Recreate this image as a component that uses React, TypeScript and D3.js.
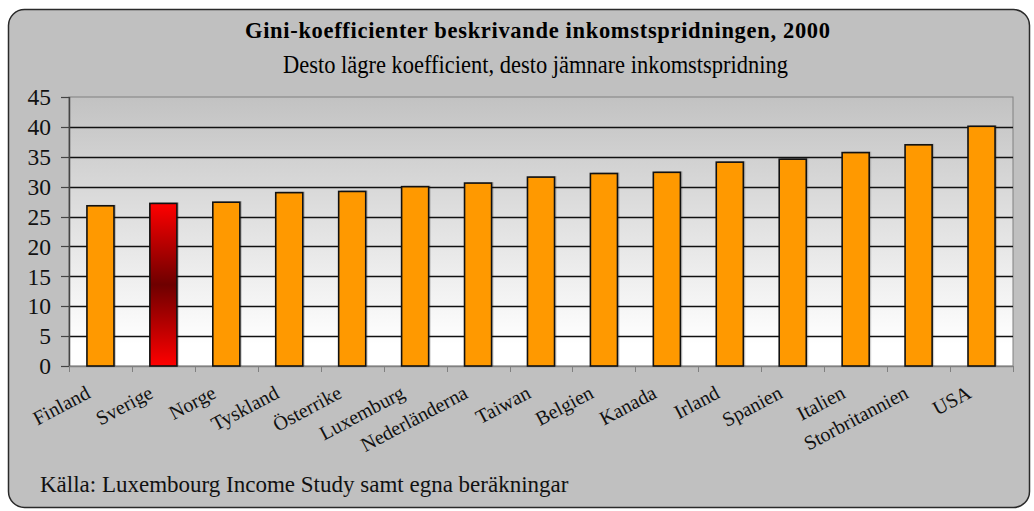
import React, { useEffect, useRef } from 'react';
import * as d3 from 'd3';

const countries = [
  'Finland', 'Sverige', 'Norge', 'Tyskland', 'Österrike', 'Luxemburg', 'Nederländerna',
  'Taiwan', 'Belgien', 'Kanada', 'Irland', 'Spanien', 'Italien', 'Storbritannien', 'USA',
];
const gini = [26.8, 27.2, 27.4, 29.0, 29.2, 30.0, 30.6, 31.6, 32.2, 32.4, 34.1, 34.6, 35.7, 37.0, 40.1];
const yTicks = [0, 5, 10, 15, 20, 25, 30, 35, 40, 45];
const highlight = 'Sverige';

const title = 'Gini-koefficienter beskrivande inkomstspridningen, 2000';
const subtitle = 'Desto lägre koefficient, desto jämnare inkomstspridning';
const source = 'Källa: Luxembourg Income Study samt egna beräkningar';

const W = 1034;
const H = 511;
const plot = { left: 69, right: 1013, top: 97, bottom: 366 };
const serif = '"Liberation Serif", "DejaVu Serif", serif';

const App = () => {
  const ref = useRef(null);

  useEffect(() => {
    const svg = d3.select(ref.current);
    svg.selectAll('*').remove();

    const x = d3.scaleBand().domain(countries).range([plot.left, plot.right]).paddingInner(0.57).paddingOuter(0.285);
    const band = d3.scaleBand().domain(countries).range([plot.left, plot.right]);
    const y = d3.scaleLinear().domain([0, 45]).range([plot.bottom, plot.top]);

    const defs = svg.append('defs');
    const bg = defs.append('linearGradient').attr('id', 'plotbg').attr('x1', 0).attr('x2', 0).attr('y1', 0).attr('y2', 1);
    bg.append('stop').attr('offset', '0%').attr('stop-color', '#c2c2c2');
    bg.append('stop').attr('offset', '92%').attr('stop-color', '#ffffff');
    bg.append('stop').attr('offset', '100%').attr('stop-color', '#ffffff');

    const red = defs.append('linearGradient').attr('id', 'redbar').attr('x1', 0).attr('x2', 0).attr('y1', 0).attr('y2', 1);
    red.append('stop').attr('offset', '0%').attr('stop-color', '#ff0000');
    red.append('stop').attr('offset', '50%').attr('stop-color', '#6e0000');
    red.append('stop').attr('offset', '100%').attr('stop-color', '#ff0000');

    // chart frame
    svg.append('rect')
      .attr('x', 8.5).attr('y', 9.5)
      .attr('width', 1021).attr('height', 498)
      .attr('rx', 16)
      .attr('fill', '#c0c0c0')
      .attr('stroke', '#2a2a2a')
      .attr('stroke-width', 1.5);

    svg.append('text')
      .attr('x', 245).attr('y', 38)
      .attr('font-family', serif).attr('font-weight', 'bold').attr('font-size', 22.5)
      .attr('textLength', 585).attr('lengthAdjust', 'spacing')
      .attr('fill', '#000')
      .text(title);

    svg.append('text')
      .attr('x', 283).attr('y', 72.5)
      .attr('font-family', serif).attr('font-size', 26)
      .attr('textLength', 505).attr('lengthAdjust', 'spacingAndGlyphs')
      .attr('fill', '#000')
      .text(subtitle);

    // plot background
    svg.append('rect')
      .attr('x', plot.left).attr('y', plot.top)
      .attr('width', plot.right - plot.left).attr('height', plot.bottom - plot.top)
      .attr('fill', 'url(#plotbg)')
      .attr('stroke', '#808080');

    // gridlines
    svg.append('g')
      .selectAll('line')
      .data(yTicks.filter(d => d > 0 && d < 45))
      .join('line')
      .attr('x1', plot.left).attr('x2', plot.right)
      .attr('y1', d => Math.round(y(d)) + 0.5).attr('y2', d => Math.round(y(d)) + 0.5)
      .attr('stroke', '#111')
      .attr('stroke-width', 1.3);

    // y axis
    const yAxis = svg.append('g');
    yAxis.append('line')
      .attr('x1', plot.left + 0.5).attr('x2', plot.left + 0.5)
      .attr('y1', plot.top).attr('y2', plot.bottom)
      .attr('stroke', '#444').attr('stroke-width', 1.5);
    yAxis.selectAll('line.tick')
      .data(yTicks)
      .join('line')
      .attr('class', 'tick')
      .attr('x1', plot.left - 8).attr('x2', plot.left)
      .attr('y1', d => Math.round(y(d)) + 0.5).attr('y2', d => Math.round(y(d)) + 0.5)
      .attr('stroke', '#444').attr('stroke-width', 1.2);
    yAxis.selectAll('text')
      .data(yTicks)
      .join('text')
      .attr('x', 51).attr('y', d => y(d))
      .attr('dy', '0.35em')
      .attr('text-anchor', 'end')
      .attr('font-family', serif).attr('font-size', 23.5)
      .attr('fill', '#111')
      .text(d => d);

    // x axis
    const xAxis = svg.append('g');
    xAxis.append('line')
      .attr('x1', plot.left).attr('x2', plot.right)
      .attr('y1', plot.bottom + 0.5).attr('y2', plot.bottom + 0.5)
      .attr('stroke', '#808080').attr('stroke-width', 1.5);
    xAxis.selectAll('line.tick')
      .data([...countries.map(c => band(c)), plot.right])
      .join('line')
      .attr('class', 'tick')
      .attr('x1', d => Math.round(d) + 0.5).attr('x2', d => Math.round(d) + 0.5)
      .attr('y1', plot.bottom).attr('y2', plot.bottom + 6)
      .attr('stroke', '#808080');
    xAxis.selectAll('text')
      .data(countries)
      .join('text')
      .attr('transform', d => `translate(${band(d) + band.bandwidth() / 2 - 9},${397}) rotate(-28)`)
      .attr('text-anchor', 'end')
      .attr('font-family', serif).attr('font-size', 20)
      .attr('fill', '#111')
      .text(d => d);

    // bars
    const bars = svg.append('g');
    bars.selectAll('rect.shadow')
      .data(countries)
      .join('rect')
      .attr('class', 'shadow')
      .attr('x', d => x(d) + 2)
      .attr('y', (d, i) => y(gini[i]) - 1)
      .attr('width', x.bandwidth())
      .attr('height', (d, i) => plot.bottom - y(gini[i]) + 1)
      .attr('fill', '#000')
      .attr('opacity', 0.18);
    bars.selectAll('rect.bar')
      .data(countries)
      .join('rect')
      .attr('class', 'bar')
      .attr('x', d => x(d))
      .attr('y', (d, i) => y(gini[i]))
      .attr('width', x.bandwidth())
      .attr('height', (d, i) => plot.bottom - y(gini[i]))
      .attr('fill', d => (d === highlight ? 'url(#redbar)' : '#ff9900'))
      .attr('stroke', '#111')
      .attr('stroke-width', 1.6);

    svg.append('text')
      .attr('x', 40).attr('y', 492)
      .attr('font-family', serif).attr('font-size', 23)
      .attr('fill', '#111')
      .text(source);
  }, []);

  return (
    <svg ref={ref} width={W} height={H} style={{ position: 'absolute', left: 0, top: 0, background: '#fff' }} />
  );
};

export default App;
